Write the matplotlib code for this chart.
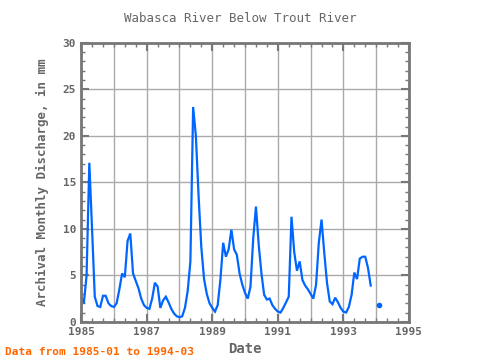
import numpy as np
import matplotlib
matplotlib.use("Agg")
import matplotlib.pyplot as plt
from matplotlib.ticker import MultipleLocator

# monthly discharge (mm), 1985-01 .. 1994-03, nan = missing
discharge = [
    2.7, 2.0, 5.0, 17.1, 10.0, 2.7, 1.7, 1.6, 2.8, 2.8, 2.0, 1.7,      # 1985
    1.6, 2.0, 3.5, 5.2, 4.8, 8.7, 9.5, 5.2, 4.4, 3.6, 2.5, 1.8,        # 1986
    1.5, 1.4, 2.5, 4.2, 3.8, 1.5, 2.3, 2.7, 2.1, 1.4, 0.9, 0.6,        # 1987
    0.5, 0.6, 1.5, 3.3, 6.5, 23.1, 20.0, 13.5, 8.0, 4.6, 3.0, 2.0,     # 1988
    1.5, 1.1, 1.8, 4.6, 8.5, 7.0, 7.8, 9.9, 7.8, 7.2, 5.2, 4.0,        # 1989
    3.1, 2.5, 3.8, 9.0, 12.4, 8.3, 5.2, 2.9, 2.4, 2.5, 1.8, 1.4,       # 1990
    1.1, 1.0, 1.5, 2.1, 2.7, 11.3, 7.5, 5.5, 6.5, 4.5, 3.9, 3.5,       # 1991
    3.0, 2.5, 4.0, 8.5, 11.0, 7.4, 4.2, 2.2, 1.9, 2.6, 2.1, 1.5,       # 1992
    1.1, 1.0, 1.6, 2.9, 5.3, 4.6, 6.8, 7.0, 7.0, 5.8, 3.9, np.nan,     # 1993
    np.nan, 1.8, np.nan,                                               # 1994
]
start_year = 1985
title = "Wabasca River Below Trout River"
ylabel = "Archival Monthly Discharge, in mm"
note = "Data from 1985-01 to 1994-03"

vals = np.array(discharge, dtype=float)
dates = start_year + np.arange(len(vals)) / 12.0

gray = "#666666"
font = "DejaVu Sans Mono"

fig = plt.figure(figsize=(4.8, 3.6), dpi=100)
ax = fig.add_axes([0.169, 0.106, 0.683, 0.775])

ax.plot(dates, vals, color="#0066ff", lw=1.6, solid_joinstyle="miter")
# isolated points (neighbours missing)
iso = [i for i in range(len(vals))
       if not np.isnan(vals[i])
       and (i == 0 or np.isnan(vals[i - 1]))
       and (i == len(vals) - 1 or np.isnan(vals[i + 1]))]
ax.plot(dates[iso], vals[iso], "o", color="#0066ff", ms=3)

ax.set_xticks(np.arange(1985, 1996, 2))
ax.xaxis.set_minor_locator(MultipleLocator(1 / 3))
ax.yaxis.set_major_locator(MultipleLocator(5))
ax.yaxis.set_minor_locator(MultipleLocator(1))
ax.set_xlim(1985, 1995)
ax.set_ylim(0, 30)
ax.grid(True, which="major", color="#aaaaaa", lw=1)
for x in range(1986, 1995, 2):
    ax.axvline(x, color="#aaaaaa", lw=1, zorder=0)

ax.tick_params(which="both", direction="in", top=True, right=True,
               color="#777777", labelcolor=gray, labelsize=8)
ax.tick_params(which="major", length=6, width=1.5)
ax.tick_params(which="minor", length=3, width=1)
for lab in ax.get_xticklabels() + ax.get_yticklabels():
    lab.set_family(font)
    lab.set_weight("bold")
for s in ax.spines.values():
    s.set_color("#777777")
    s.set_linewidth(2)

fig.text(0.5, 0.95, title, ha="center", va="center", color=gray,
         family=font, fontsize=9)
ax.set_ylabel(ylabel, color=gray, family=font, fontsize=9, weight="bold",
              labelpad=10)
ax.set_xlabel("Date", color=gray, family=font, fontsize=10, weight="bold",
              labelpad=4)
fig.text(0.01, 0.022, note, color="#ff6600", family=font, fontsize=8,
         weight="bold", ha="left", va="center")

fig.savefig("out.png", dpi=100)
